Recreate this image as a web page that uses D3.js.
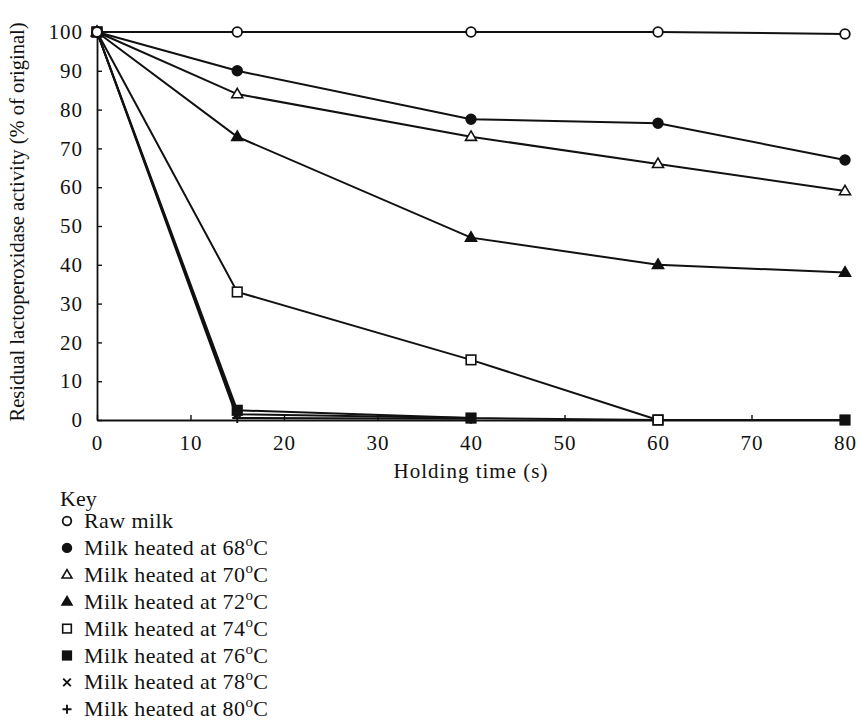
<!DOCTYPE html>
<html>
<head>
<meta charset="utf-8">
<script src="https://cdn.jsdelivr.net/npm/d3@7"></script>
<style>
  html, body { margin: 0; padding: 0; background: #fff; }
  svg { display: block; font-family: "Liberation Serif", "DejaVu Serif", serif; }
</style>
</head>
<body>
<svg id="chart" width="860" height="721"></svg>
<script>
// Holding times (s) and residual lactoperoxidase activity per treatment
const xTicks = [0, 10, 20, 30, 40, 50, 60, 70, 80];
const yTicks = [0, 10, 20, 30, 40, 50, 60, 70, 80, 90, 100];

const rawTime = [0, 15, 40, 60, 80];
const rawValues = [100, 100, 100, 100, 99.5];
const t68Time = [0, 15, 40, 60, 80];
const t68Values = [100, 90, 77.5, 76.5, 67];
const t70Time = [0, 15, 40, 60, 80];
const t70Values = [100, 84, 73, 66, 59];
const t72Time = [0, 15, 40, 60, 80];
const t72Values = [100, 73, 47, 40, 38];
const t74Time = [0, 15, 40, 60];
const t74Values = [100, 33, 15.5, 0];
const t76Time = [0, 15, 40, 60, 80];
const t76Values = [100, 2.5, 0.5, 0, 0];
const t78Time = [0, 15, 40];
const t78Values = [100, 1.5, 0.5];
const t80Time = [0, 15, 40];
const t80Values = [100, 0.5, 0.3];

const seriesNames = ["Raw milk", "Milk heated at 68", "Milk heated at 70", "Milk heated at 72",
  "Milk heated at 74", "Milk heated at 76", "Milk heated at 78", "Milk heated at 80"];
const seriesSymbols = ["circleOpen", "circleFilled", "triangleOpen", "triangleFilled",
  "squareOpen", "squareFilled", "cross", "plus"];
const seriesTimes = [rawTime, t68Time, t70Time, t72Time, t74Time, t76Time, t78Time, t80Time];
const seriesValues = [rawValues, t68Values, t70Values, t72Values, t74Values, t76Values, t78Values, t80Values];

const svg = d3.select("#chart");
const margin = { left: 97, right: 15, top: 32, bottom: 301 };
const W = 860, H = 721;
const x = d3.scaleLinear().domain([0, 80]).range([margin.left, W - margin.right]);
const y = d3.scaleLinear().domain([0, 100]).range([H - margin.bottom, margin.top]);

// Axes: ticks pointing into the plot area
const gx = svg.append("g").attr("transform", `translate(0,${y(0)})`)
  .call(d3.axisBottom(x).tickValues(xTicks).tickSizeInner(-5).tickSizeOuter(0).tickPadding(15));
const gy = svg.append("g").attr("transform", `translate(${x(0)},0)`)
  .call(d3.axisLeft(y).tickValues(yTicks).tickSizeInner(-5).tickSizeOuter(0).tickPadding(14));
[gx, gy].forEach(g => {
  g.selectAll("path.domain").attr("stroke", "#111").attr("stroke-width", 1.8);
  g.selectAll(".tick line").attr("stroke", "#111").attr("stroke-width", 1.4);
  g.selectAll(".tick text").attr("font-size", 21).attr("fill", "#111")
    .attr("letter-spacing", 1)
    .attr("font-family", "Liberation Serif, serif");
});
gx.selectAll(".tick text").attr("dy", "0.71em");

// Axis titles
svg.append("text").attr("x", x(40)).attr("y", 478).attr("text-anchor", "middle")
  .attr("font-size", 21).attr("letter-spacing", 1).attr("fill", "#111").text("Holding time (s)");
svg.append("text").attr("transform", `translate(24,${y(50) - 4}) rotate(-90)`)
  .attr("text-anchor", "middle").attr("font-size", 20.5).attr("fill", "#111")
  .text("Residual lactoperoxidase activity (% of original)");

// Symbol drawing helper
function drawSymbol(g, kind, cx, cy, s) {
  const k = s || 1;
  if (kind === "circleOpen" || kind === "circleFilled") {
    g.append("circle").attr("cx", cx).attr("cy", cy).attr("r", 4.8 * k)
      .attr("fill", kind === "circleOpen" ? "#fff" : "#111")
      .attr("stroke", "#111").attr("stroke-width", 1.8);
  } else if (kind === "triangleOpen" || kind === "triangleFilled") {
    const r = 5.8 * k;
    const pts = [[cx, cy - r], [cx + r * 0.95, cy + r * 0.62], [cx - r * 0.95, cy + r * 0.62]];
    g.append("polygon").attr("points", pts.map(p => p.join(",")).join(" "))
      .attr("fill", kind === "triangleOpen" ? "#fff" : "#111")
      .attr("stroke", "#111").attr("stroke-width", 1.6);
  } else if (kind === "squareOpen" || kind === "squareFilled") {
    const h = 4.8 * k;
    g.append("rect").attr("x", cx - h).attr("y", cy - h).attr("width", 2 * h).attr("height", 2 * h)
      .attr("fill", kind === "squareOpen" ? "#fff" : "#111")
      .attr("stroke", "#111").attr("stroke-width", 1.6);
  } else if (kind === "cross") {
    const h = 4.2 * k;
    g.append("path").attr("d", `M${cx - h},${cy - h}L${cx + h},${cy + h}M${cx - h},${cy + h}L${cx + h},${cy - h}`)
      .attr("stroke", "#111").attr("stroke-width", 1.9).attr("fill", "none");
  } else if (kind === "plus") {
    const h = 5 * k;
    g.append("path").attr("d", `M${cx - h},${cy}L${cx + h},${cy}M${cx},${cy - h}L${cx},${cy + h}`)
      .attr("stroke", "#111").attr("stroke-width", 1.9).attr("fill", "none");
  }
}

// Lines, drawn from the last series to the first so the upper curves sit on top
const line = d3.line().x(d => x(d[0])).y(d => y(d[1]));
const plot = svg.append("g");
for (let i = seriesNames.length - 1; i >= 0; i--) {
  const pts = seriesTimes[i].map((t, j) => [t, seriesValues[i][j]]);
  plot.append("path").datum(pts).attr("d", line)
    .attr("fill", "none").attr("stroke", "#111").attr("stroke-width", 2);
}
for (let i = seriesNames.length - 1; i >= 0; i--) {
  seriesTimes[i].forEach((t, j) => drawSymbol(plot, seriesSymbols[i], x(t), y(seriesValues[i][j])));
}

// Key
const key = svg.append("g");
key.append("text").attr("x", 60).attr("y", 506).attr("font-size", 22).attr("fill", "#111").text("Key");
seriesNames.forEach((name, i) => {
  const cy = 521 + i * 26.9;
  drawSymbol(key, seriesSymbols[i], 67, cy, 0.9);
  const t = key.append("text").attr("x", 84).attr("y", cy + 7).attr("font-size", 22)
    .attr("letter-spacing", 0.4).attr("fill", "#111");
  t.append("tspan").text(name);
  if (i > 0) {
    t.append("tspan").attr("dy", -9).attr("font-size", 15).text("o");
    t.append("tspan").attr("dy", 9).text("C");
  }
});
</script>
</body>
</html>
